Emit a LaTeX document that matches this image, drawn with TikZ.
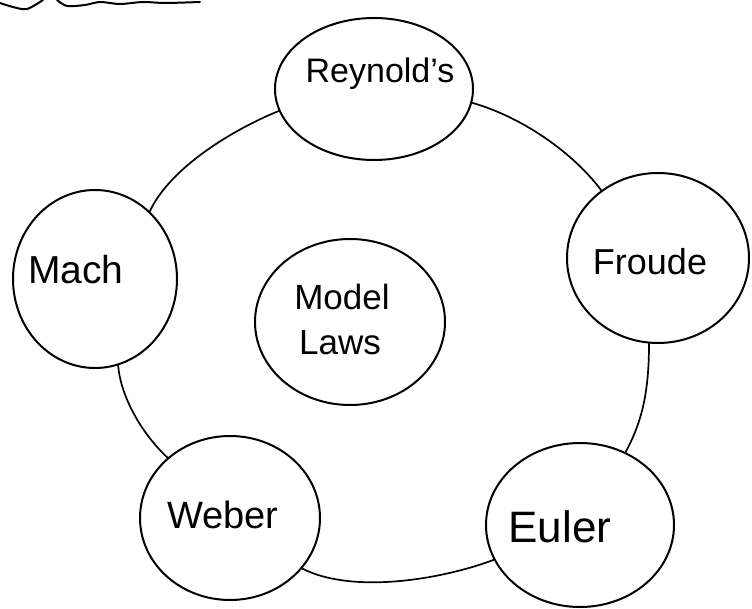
\documentclass[tikz,border=0pt]{standalone}
\usepackage{fontspec}
\setmainfont{Liberation Sans}
\usetikzlibrary{shapes.geometric}
\begin{document}
\begin{tikzpicture}[x=1pt,y=-1pt,
  pen/.style={line width=2pt,line cap=round,line join=round},
  bubble/.style={ellipse,draw,pen,inner sep=0pt},
  lbl/.style={font=\fontsize{34}{36}\selectfont,inner sep=0pt},
  link/.style={line width=1.7pt,line cap=round}]
\useasboundingbox (0,0) rectangle (752,609);
% scribble at top left
\draw[pen] plot[smooth] coordinates {(0,3) (13,7) (27,9) (43,0)};
\draw[pen] plot[smooth] coordinates {(57,0) (67,6) (85,5) (100,2) (120,4) (143,2) (165,3) (200,2)};
% bubbles
\node[bubble,minimum width=198pt,minimum height=142pt] (r) at (374,89) {};
\node[bubble,minimum width=164pt,minimum height=178pt] (m) at (95,279) {};
\node[bubble,minimum width=182pt,minimum height=170pt] (f) at (658,258) {};
\node[bubble,minimum width=190pt,minimum height=166pt] (c) at (350,322) {};
\node[bubble,minimum width=180pt,minimum height=164pt] (w) at (230,518) {};
\node[bubble,minimum width=188pt,minimum height=164pt] (e) at (580,525) {};
% labels
\node[lbl] (rt) at (380,74) {Reynold's};
\node[lbl,font=\fontsize{39}{40}\selectfont] (mt) at (76,270) {Mach};
\node[lbl,font=\fontsize{36}{38}\selectfont] (ft) at (650,262) {Froude};
\node[lbl,font=\fontsize{35}{36}\selectfont] (ct1) at (342,297) {Model};
\node[lbl,font=\fontsize{35}{36}\selectfont] (ct2) at (340,343) {Laws};
\node[lbl,font=\fontsize{38}{40}\selectfont] (wt) at (223,515) {Weber};
\node[lbl,font=\fontsize{44}{46}\selectfont] (et) at (560,527) {Euler};
% connectors
\draw[link] (r.193) .. controls (232,130) and (170,168) .. (m.51);
\draw[link] (r.352) .. controls (525,118) and (575,155) .. (f.130);
\draw[link] (f.264) .. controls (649,392) and (642,422) .. (e.58);
\draw[link] (e.202) .. controls (440,580) and (352,594) .. (w.325);
\draw[link] (w.136) .. controls (138,430) and (120,392) .. (m.285);
\end{tikzpicture}
\end{document}
